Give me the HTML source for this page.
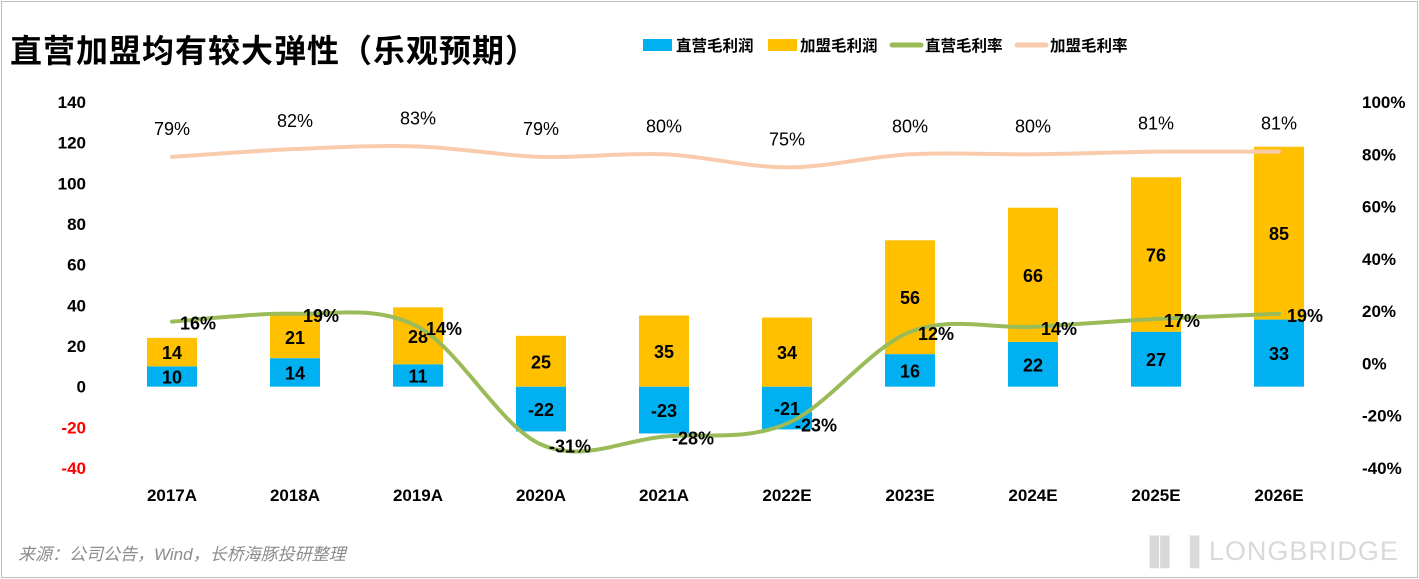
<!DOCTYPE html>
<html><head><meta charset="utf-8">
<style>
html,body{margin:0;padding:0;background:#fff;}
body{width:1419px;height:579px;overflow:hidden;position:relative;font-family:"Liberation Sans","Noto Sans CJK SC",sans-serif;}
#frame{position:absolute;left:1px;top:1px;width:1415px;height:575px;border:1px solid #bfbfbf;}
#title{position:absolute;left:10px;top:26px;font-size:32px;font-weight:bold;color:#000;letter-spacing:1px;white-space:nowrap;}
#src{position:absolute;left:18px;top:540px;font-size:17px;font-style:italic;color:#8c8c8c;white-space:nowrap;}
#logo{position:absolute;left:1140px;top:536px;font-size:27px;color:#d9d9d9;letter-spacing:1px;white-space:nowrap;}
svg{position:absolute;left:0;top:0;}
text{font-family:"Liberation Sans","Noto Sans CJK SC",sans-serif;}
</style></head><body>
<div id="frame"></div>
<div id="title">直营加盟均有较大弹性（乐观预期）</div>
<div id="src">来源：公司公告，Wind，长桥海豚投研整理</div>
<div id="logo">▐▌▐ LONGBRIDGE</div>
<svg id="chart" width="1419" height="579">
  <g>
    <rect x="643" y="39" width="29" height="12" fill="#00B0F0"/>
    <text x="676" y="51" font-size="15.5" font-weight="bold">直营毛利润</text>
    <rect x="768" y="39" width="29" height="12" fill="#FFC000"/>
    <text x="800" y="51" font-size="15.5" font-weight="bold">加盟毛利润</text>
    <line x1="892" y1="45" x2="921" y2="45" stroke="#9BBB59" stroke-width="5" stroke-linecap="round"/>
    <text x="925" y="51" font-size="15.5" font-weight="bold">直营毛利率</text>
    <line x1="1017" y1="45" x2="1046" y2="45" stroke="#F8CBAD" stroke-width="5" stroke-linecap="round"/>
    <text x="1050" y="51" font-size="15.5" font-weight="bold">加盟毛利率</text>
  </g>
</svg>
<script>
const categories=["2017A","2018A","2019A","2020A","2021A","2022E","2023E","2024E","2025E","2026E"];
const directProfit=[10,14,11,-22,-23,-21,16,22,27,33];
const franchiseProfit=[14,21,28,25,35,34,56,66,76,85];
const directMargin=[16,19,14,-31,-28,-23,12,14,17,19];
const franchiseMargin=[79,82,83,79,80,75,80,80,81,81];
const leftTicks=[140,120,100,80,60,40,20,0,-20,-40];
const rightTicks=[100,80,60,40,20,0,-20,-40];

const svg=document.getElementById('chart');
const NS='http://www.w3.org/2000/svg';
const plotTop=102,plotBot=468;
const yL=v=>plotTop+(140-v)*(plotBot-plotTop)/180;
const yR=v=>plotTop+(100-v)*(plotBot-plotTop)/140;
const x0=172,step=123;
const xC=i=>x0+i*step;
const bw=50;
function mk(tag,attrs){const e=document.createElementNS(NS,tag);for(const k in attrs)e.setAttribute(k,attrs[k]);svg.appendChild(e);return e;}
function txt(x,y,s,anchor,size,color){const t=mk('text',{x:x,y:y,'text-anchor':anchor,'font-size':size,'font-weight':'bold',fill:color||'#000'});t.textContent=s;return t;}

leftTicks.forEach(v=>{
  const t=txt(86,yL(v)+6,String(v),'end',17,v<0?'#FF0000':'#000');
  
  
});
rightTicks.forEach(v=>{
  const t=txt(1362,yR(v)+6,v+'%','start',17,'#000');
  
  
});
categories.forEach((c,i)=>{
  const t=txt(xC(i),501,c,'middle',17,'#000');
  
  
});
categories.forEach((c,i)=>{
  const d=directProfit[i],f=franchiseProfit[i];
  const y0=yL(0),yd=yL(d);
  const r=mk('rect',{x:xC(i)-bw/2,y:Math.min(y0,yd),width:bw,height:Math.abs(yd-y0),fill:'#00B0F0'});
  
  
  const base=Math.max(d,0);
  const yb=yL(base),yt=yL(base+f);
  const r2=mk('rect',{x:xC(i)-bw/2,y:yt,width:bw,height:yb-yt,fill:'#FFC000'});
  
  
  const t1=txt(xC(i),(y0+yd)/2+7,String(d),'middle',18,'#000');
  
  
  const t2=txt(xC(i),(yb+yt)/2+7,String(f),'middle',18,'#000');
  
  
});
function smooth(pts){
  let d='M'+pts[0][0]+','+pts[0][1];
  for(let i=0;i<pts.length-1;i++){
    const p0=pts[i-1]||pts[i],p1=pts[i],p2=pts[i+1],p3=pts[i+2]||p2;
    const c1=[p1[0]+(p2[0]-p0[0])/6,p1[1]+(p2[1]-p0[1])/6];
    const c2=[p2[0]-(p3[0]-p1[0])/6,p2[1]-(p3[1]-p1[1])/6];
    d+=' C'+c1[0]+','+c1[1]+' '+c2[0]+','+c2[1]+' '+p2[0]+','+p2[1];
  }
  return d;
}
const fp=franchiseMargin.map((v,i)=>[xC(i),yR(v)]);
const l1=mk('path',{d:smooth(fp),fill:'none',stroke:'#F8CBAD','stroke-width':4,'stroke-linecap':'round'});


const dp=directMargin.map((v,i)=>[xC(i),yR(v)]);
const l2=mk('path',{d:smooth(dp),fill:'none',stroke:'#9BBB59','stroke-width':4,'stroke-linecap':'round'});


franchiseMargin.forEach((v,i)=>{
  const t=txt(xC(i),yR(v)-22,v+'%','middle',18,'#000');
  t.setAttribute('font-weight','normal');
  
  
});
directMargin.forEach((v,i)=>{
  const t=txt(xC(i)+8,yR(v)+8,v+'%','start',18,'#000');
  
  
});
</script>
</body></html>
